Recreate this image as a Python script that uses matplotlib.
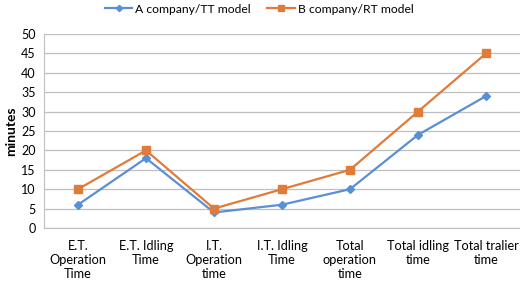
import matplotlib.pyplot as plt

plt.rcParams['font.family'] = ['Lato', 'DejaVu Sans']

categories = ["E.T.\nOperation\nTime", "E.T. Idling\nTime", "I.T.\nOperation\ntime",
              "I.T. Idling\nTime", "Total\noperation\ntime", "Total idling\ntime",
              "Total tralier\ntime"]
a_company = [6, 18, 4, 6, 10, 24, 34]
b_company = [10, 20, 5, 10, 15, 30, 45]

fig = plt.figure(figsize=(5.2, 2.87), dpi=100)
ax = fig.add_axes([0.0846, 0.2056, 0.9154, 0.6759])

x = range(len(categories))
ax.plot(x, a_company, color="#5B8FD5", marker="D", markersize=4, linewidth=1.6,
        label="A company/TT model")
ax.plot(x, b_company, color="#E07B39", marker="s", markersize=5.5, linewidth=1.6,
        label="B company/RT model")

ax.set_xlim(-0.5, len(categories) - 0.5)
ax.set_ylim(0, 50)
ax.set_yticks(range(0, 51, 5))
ax.set_xticks(list(x))
ax.set_xticklabels(categories, fontsize=9.2, linespacing=1.2)
ax.tick_params(axis='y', labelsize=9, length=0, pad=6)
ax.tick_params(axis='x', length=0, pad=9)
ax.grid(axis='y', color="#BFBFBF", linewidth=0.9)
ax.set_axisbelow(True)
for s in ["top", "right"]:
    ax.spines[s].set_visible(False)
ax.spines["left"].set_color("#BFBFBF")
ax.spines["bottom"].set_color("#BFBFBF")
ax.set_ylabel("minutes", fontsize=10, fontweight="bold", labelpad=3)

leg = fig.legend(loc="upper center", bbox_to_anchor=(0.498, 1.025), ncol=2, frameon=False,
                 fontsize=8.7, handlelength=2.3, handletextpad=0.25, columnspacing=1.3,
                 markerscale=0.8)

fig.savefig("out.png", dpi=100)
